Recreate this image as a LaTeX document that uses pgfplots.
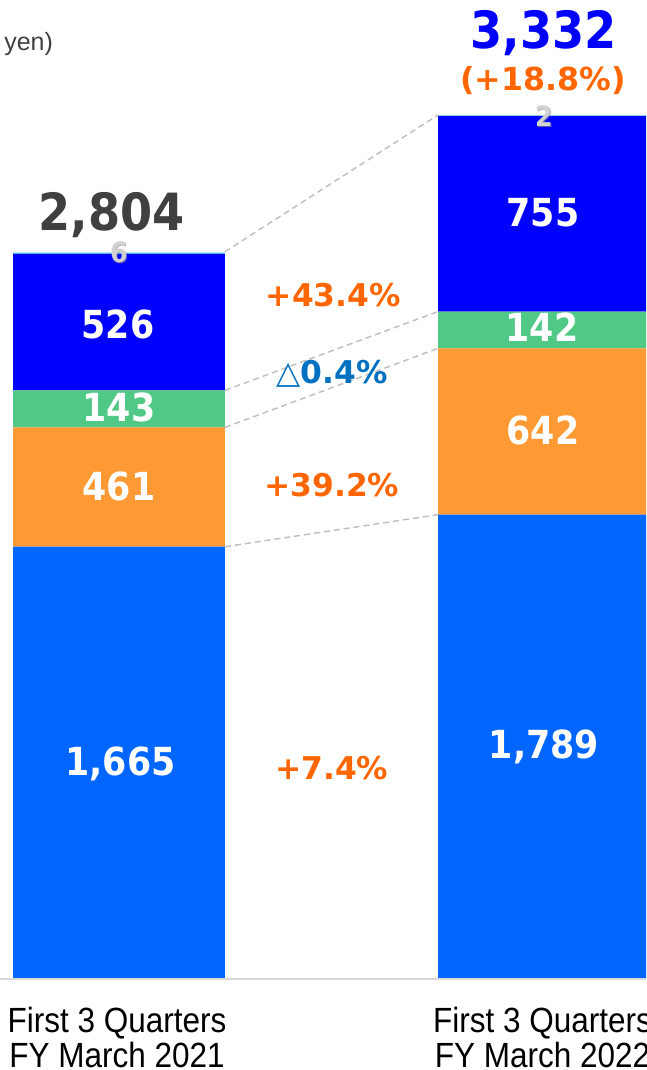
\documentclass[border=0pt]{standalone}
\usepackage{graphicx}
\usepackage{pgfplots}
\pgfplotsset{compat=1.18}
\usepackage{fontspec}
\setmainfont{Liberation Sans}
\newfontfamily\dv{DejaVu Sans}
\newfontfamily\dvc{DejaVu Sans Condensed}[BoldFont={DejaVu Sans Condensed Bold}]
\newcommand\fs[1]{\fontsize{#1}{#1}\selectfont}
\definecolor{cBase}{HTML}{0066FF}
\definecolor{cOrange}{HTML}{FF9933}
\definecolor{cGreen}{HTML}{4FC985}
\definecolor{cDark}{HTML}{0000FF}
\definecolor{cLight}{HTML}{4DB3E6}
\definecolor{tGray}{HTML}{404040}
\definecolor{tOrange}{HTML}{FF6600}
\definecolor{tBlue}{HTML}{0070C0}
\definecolor{dashGray}{HTML}{BFBFBF}
\definecolor{baseGray}{HTML}{D9D9D9}
\pgfplotsset{frame/.style={
  at={(0,0)}, anchor=south west,
  scale only axis, width=484.5pt, height=802.5pt,
  xmin=-0.28, xmax=1.24, ymin=-355.2, ymax=3776,
  axis lines=none, ticks=none, clip=false}}
\begin{document}
\begin{tikzpicture}
\useasboundingbox (0,0) rectangle (484.5pt,802.5pt);
\clip (0,0) rectangle (484.5pt,802.5pt);
\begin{axis}[frame, ybar stacked, bar width=0.4988]
\addplot[fill=cBase, draw=none] coordinates {(0,1665) (1,1789)};
\addplot[fill=cOrange, draw=none] coordinates {(0,461) (1,642)};
\addplot[fill=cGreen, draw=none] coordinates {(0,143) (1,142)};
\addplot[fill=cDark, draw=none] coordinates {(0,526) (1,755)};
\addplot[fill=cLight, draw=none] coordinates {(0,6) (1,2)};
\end{axis}
\begin{axis}[frame]
% baseline
\draw[baseGray, line width=1.5pt] (axis cs:-0.28,-4) -- (axis cs:1.24,-4);
% connectors
\draw[dashGray, line width=1.1pt, dash pattern=on 4.5pt off 3pt] (axis cs:0.2494,2804) -- (axis cs:0.7506,3332);
\draw[dashGray, line width=1.1pt, dash pattern=on 4.5pt off 3pt] (axis cs:0.2494,2269) -- (axis cs:0.7506,2573);
\draw[dashGray, line width=1.1pt, dash pattern=on 4.5pt off 3pt] (axis cs:0.2494,2126) -- (axis cs:0.7506,2431);
\draw[dashGray, line width=1.1pt, dash pattern=on 4.5pt off 3pt] (axis cs:0.2494,1665) -- (axis cs:0.7506,1789);

% totals
\node[anchor=base, inner sep=0, text=tGray, font=\dvc\bfseries\fs{38.5pt}] at (axis cs:-0.0176,2886) {2,804};
\node[anchor=base, inner sep=0, text=cDark, font=\dvc\bfseries\fs{38.5pt}] at (axis cs:0.9988,3588) {3,332};
\node[anchor=base, inner sep=0, text=tOrange, font=\dv\bfseries\fs{23.75pt}] at (axis cs:0.9976,3427) {(+18.8\%)};

% small top values with shadow
\node[anchor=base, inner sep=0, text=black!45, opacity=0.6, font=\dvc\bfseries\fs{21pt}] at (axis cs:0.0019,2759) {6};
\node[anchor=base, inner sep=0, text=black!18, font=\dvc\bfseries\fs{21pt}] at (axis cs:0,2762) {6};
\node[anchor=base, inner sep=0, text=black!45, opacity=0.6, font=\dvc\bfseries\fs{21pt}] at (axis cs:1.0019,3285) {2};
\node[anchor=base, inner sep=0, text=black!18, font=\dvc\bfseries\fs{21pt}] at (axis cs:1,3288) {2};

% segment values
\node[anchor=base, inner sep=0, text=white, font=\dvc\bfseries\fs{29pt}] at (axis cs:-0.0024,2470) {526};
\node[anchor=base, inner sep=0, text=white, font=\dvc\bfseries\fs{29pt}] at (axis cs:0,2148) {143};
\node[anchor=base, inner sep=0, text=white, font=\dvc\bfseries\fs{29pt}] at (axis cs:0,1843) {461};
\node[anchor=base, inner sep=0, text=white, font=\dvc\bfseries\fs{29pt}] at (axis cs:0.0035,783) {1,665};
\node[anchor=base, inner sep=0, text=white, font=\dvc\bfseries\fs{29pt}] at (axis cs:0.9976,2900) {755};
\node[anchor=base, inner sep=0, text=white, font=\dvc\bfseries\fs{29pt}] at (axis cs:0.9953,2456) {142};
\node[anchor=base, inner sep=0, text=white, font=\dvc\bfseries\fs{29pt}] at (axis cs:0.9976,2059) {642};
\node[anchor=base, inner sep=0, text=white, font=\dvc\bfseries\fs{29pt}] at (axis cs:1.0,848) {1,789};

% growth rates
\node[anchor=base, inner sep=0, text=tOrange, font=\dv\bfseries\fs{23.5pt}] at (axis cs:0.5042,2594) {+43.4\%};
\node[anchor=base, inner sep=0, text=tBlue, font=\dv\bfseries\fs{23.5pt}] at (axis cs:0.5012,2295) {{\mdseries △}0.4\%};
\node[anchor=base, inner sep=0, text=tOrange, font=\dv\bfseries\fs{23.5pt}] at (axis cs:0.5005,1859) {+39.2\%};
\node[anchor=base, inner sep=0, text=tOrange, font=\dv\bfseries\fs{23.5pt}] at (axis cs:0.5005,768) {+7.4\%};

% unit
\node[anchor=base west, inner sep=0, text=tGray, font=\fs{18.75pt}] at (axis cs:-0.2706,3581) {yen)};

% category labels
\node[anchor=base, inner sep=0, text=black, font=\fs{26.25pt}] at (axis cs:-0.0047,-212) {\scalebox{0.9}[1]{First 3 Quarters}};
\node[anchor=base, inner sep=0, text=black, font=\fs{26.25pt}] at (axis cs:-0.0047,-346) {\scalebox{0.9}[1]{FY March 2021}};
\node[anchor=base, inner sep=0, text=black, font=\fs{26.25pt}] at (axis cs:0.9965,-212) {\scalebox{0.9}[1]{First 3 Quarters}};
\node[anchor=base, inner sep=0, text=black, font=\fs{26.25pt}] at (axis cs:0.9965,-346) {\scalebox{0.9}[1]{FY March 2022}};
\end{axis}
\end{tikzpicture}
\end{document}
